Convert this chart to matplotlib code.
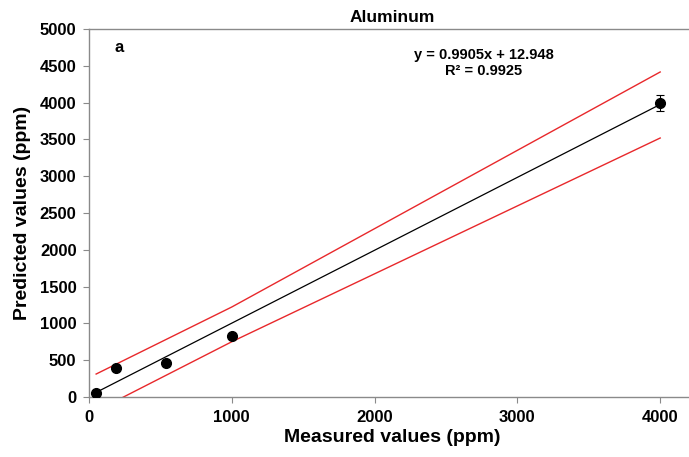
import matplotlib
matplotlib.use("Agg")
import matplotlib.pyplot as plt
import numpy as np

plt.rcParams['font.family'] = ['Liberation Sans', 'DejaVu Sans']

measured = [50, 188, 537, 998, 4000]
predicted = [55, 394, 462, 829, 4000]
pred_err = [0, 0, 0, 0, 110]

fit_x = [50, 4000]
slope = 0.9905
intercept = 12.948

band_x = [50, 1000, 4000]
band_upper = [312, 1223, 4416]
band_lower = [-190, 751, 3519]

x_ticks = [0, 1000, 2000, 3000, 4000]
y_ticks = [0, 500, 1000, 1500, 2000, 2500, 3000, 3500, 4000, 4500, 5000]

fig = plt.figure(figsize=(6.89, 4.57), dpi=100)
ax = fig.add_axes([89/689, 1-397/457, 1-89/689+0.01, (397-29)/457])

fx = np.array(fit_x)
ax.plot(fx, slope*fx + intercept, color='black', lw=0.9, zorder=2)
ax.plot(band_x, band_upper, color='#e8282b', lw=1.0, zorder=2)
ax.plot(band_x, band_lower, color='#e8282b', lw=1.0, zorder=2)
ax.errorbar(measured, predicted, yerr=pred_err, fmt='o', color='black',
            ms=7, elinewidth=0.8, capsize=3, capthick=0.8, zorder=3)

ax.set_xlim(0, 4250)
ax.set_ylim(0, 5000)
ax.set_xticks(x_ticks)
ax.set_yticks(y_ticks)
for s in ['left', 'bottom', 'top', 'right']:
    ax.spines[s].set_color('#8a8a8a')
    ax.spines[s].set_linewidth(1.0)
ax.spines['right'].set_visible(False)
ax.tick_params(direction='out', length=4, width=0.8, color='#8a8a8a',
               labelsize=12, pad=5)
for lab in ax.get_xticklabels() + ax.get_yticklabels():
    lab.set_fontweight('bold')

ax.set_xlabel('Measured values (ppm)', fontsize=14, fontweight='bold', labelpad=3)
ax.set_ylabel('Predicted values (ppm)', fontsize=14, fontweight='bold', labelpad=6)
ax.set_title('Aluminum', fontsize=12.5, fontweight='bold', pad=5)

ax.text(181, 4755, 'a', fontsize=12, fontweight='bold', ha='left', va='center')
ax.text(2763, 4540, 'y = 0.9905x + 12.948\nR² = 0.9925', fontsize=10.5,
        fontweight='bold', ha='center', va='center', linespacing=1.15)

fig.savefig('out.png', dpi=100)
